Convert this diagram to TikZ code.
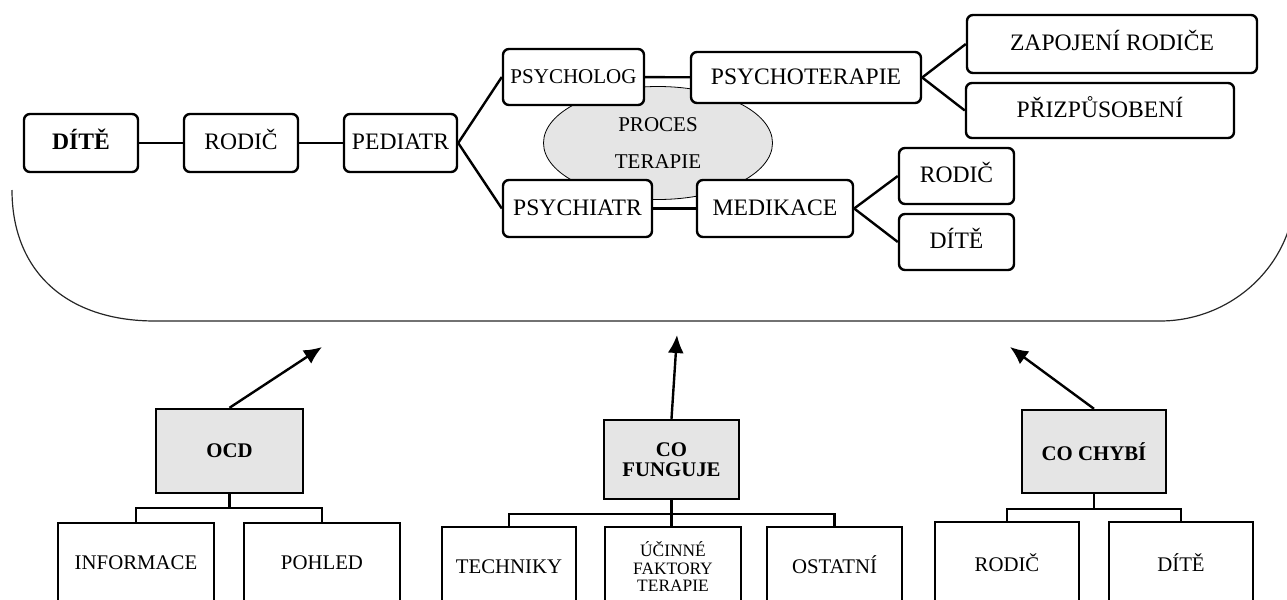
\documentclass[tikz,border=0pt]{standalone}
\usepackage{fontspec}
\setmainfont{Liberation Serif}
\usetikzlibrary{shapes.geometric,arrows.meta}

\tikzset{
  topbox/.style={draw, line width=1.2pt, rounded corners=3pt, fill=white, inner sep=0pt,
    minimum height=29pt, text height=0.662em, text depth=0pt, font=\fontsize{11.8}{13}\selectfont},
  graybox/.style={draw, line width=1.2pt, fill=gray!20, inner sep=0pt, align=center,
    font=\bfseries\fontsize{10.4}{10}\selectfont},
  leafbox/.style={draw, line width=1.2pt, fill=white, inner sep=0pt, minimum height=40pt,
    text height=0.662em, text depth=0pt, font=\fontsize{10.4}{12}\selectfont},
  link/.style={line width=1.2pt},
  pointer/.style={line width=1.2pt, -{Latex[length=9pt,width=8pt]}},
}

\begin{document}
\begin{tikzpicture}[x=0.5pt,y=-0.5pt]
            \useasboundingbox (0,0) rectangle (1287,600);
            \clip (0,0) rectangle (1287,600);

            % Draw the frame round the process
            \draw[line width=0.6pt, black!85] (12,190) .. controls (12,271) and (66,321) .. (155,321)
                -- (1160,321) .. controls (1234,321) and (1295,262) .. (1295,190);

            % Draw the process in the middle
            \node[ellipse, draw, line width=0.4pt, fill=gray!20, minimum width=114.5pt, minimum height=56.5pt,
                inner sep=0pt, align=center, font=\fontsize{10.5}{18.5}\selectfont] (proces) at (658,143) {PROCES\\TERAPIE};

            % Draw the path from the child to the therapy
            \node[topbox, minimum width=57pt, font=\bfseries\fontsize{11.8}{13}\selectfont] (dite) at (81,143) {DÍTĚ};
            \node[topbox, minimum width=57pt] (rodic) at (241,143) {RODIČ};
            \node[topbox, minimum width=56.5pt] (pediatr) at (400.5,143) {PEDIATR};
            \node[topbox, minimum width=70.5pt, minimum height=28pt, font=\fontsize{10.5}{12}\selectfont] (psycholog) at (573.5,77) {PSYCHOLOG};
            \node[topbox, minimum width=115pt, minimum height=25.5pt] (psychoterapie) at (806,77.5) {PSYCHOTERAPIE};
            \node[topbox, minimum width=74.5pt, minimum height=28.5pt] (psychiatr) at (577.5,208.5) {PSYCHIATR};
            \node[topbox, minimum width=78pt, minimum height=28.5pt] (medikace) at (775,208.5) {MEDIKACE};
            \node[topbox, minimum width=145pt] (zapojeni) at (1112,44) {ZAPOJENÍ RODIČE};
            \node[topbox, minimum width=134pt, minimum height=27.5pt] (prizpusobeni) at (1100,110.5) {PŘIZPŮSOBENÍ};
            \node[topbox, minimum width=57.5pt, minimum height=28pt] (medrodic) at (956.5,176) {RODIČ};
            \node[topbox, minimum width=57.5pt, minimum height=28pt] (meddite) at (956.5,242) {DÍTĚ};

            \draw[link] (dite) -- (rodic);
            \draw[link] (rodic) -- (pediatr);
            \draw[link] (psycholog) -- (psychoterapie);
            \draw[link] (psychiatr) -- (medikace);
            \foreach \a/\b in {pediatr/psycholog, pediatr/psychiatr, psychoterapie/zapojeni,
                psychoterapie/prizpusobeni, medikace/medrodic, medikace/meddite} {
                \draw[link] (\a.east) -- (\b.west);
            }

            % Draw the three themes below
            \node[graybox, minimum width=73.5pt, minimum height=42pt] (ocd) at (229.5,451) {OCD};
            \node[graybox, minimum width=67.5pt, minimum height=39.5pt] (funguje) at (671.5,459.5) {CO\\FUNGUJE};
            \node[graybox, minimum width=72pt, minimum height=41.5pt] (chybi) at (1094,451.5) {CO CHYBÍ};

            \coordinate (ocdtip) at (322,347);
            \coordinate (fungujetip) at (677,335);
            \coordinate (chybitip) at (1010,347);
            \foreach \t in {ocd, funguje, chybi} {
                \draw[pointer] (\t.north) -- (\t tip);
            }

            % Draw the boxes under each theme
            \node[leafbox, minimum width=78pt] (informace) at (136,563) {INFORMACE};
            \node[leafbox, minimum width=78pt] (pohled) at (322,563) {POHLED};
            \node[leafbox, minimum width=67pt] (techniky) at (509,567) {TECHNIKY};
            \node[leafbox, minimum width=68pt, text height=, text depth=, align=center,
                font=\fontsize{8.7}{8.75}\selectfont] (faktory) at (673,567) {ÚČINNÉ\\FAKTORY\\TERAPIE};
            \node[leafbox, minimum width=67.5pt] (ostatni) at (834.5,567) {OSTATNÍ};
            \node[leafbox, minimum width=72pt, minimum height=43pt] (chybirodic) at (1007,565) {RODIČ};
            \node[leafbox, minimum width=72pt, minimum height=43pt] (chybidite) at (1181,565) {DÍTĚ};

            \draw[link] (ocd.south) -- ++(0,14) coordinate (ocdfork);
            \draw[link] (ocdfork) -| (informace.north);
            \draw[link] (ocdfork) -| (pohled.north);
            \draw[link] (funguje.south) -- ++(0,14) coordinate (fungujefork);
            \draw[link] (fungujefork) -| (techniky.north);
            \draw[link] (fungujefork) -| (ostatni.north);
            \draw[link] (fungujefork) -- (fungujefork |- faktory.north);
            \draw[link] (chybi.south) -- ++(0,15) coordinate (chybifork);
            \draw[link] (chybifork) -| (chybirodic.north);
            \draw[link] (chybifork) -| (chybidite.north);
        \end{tikzpicture}
\end{document}
